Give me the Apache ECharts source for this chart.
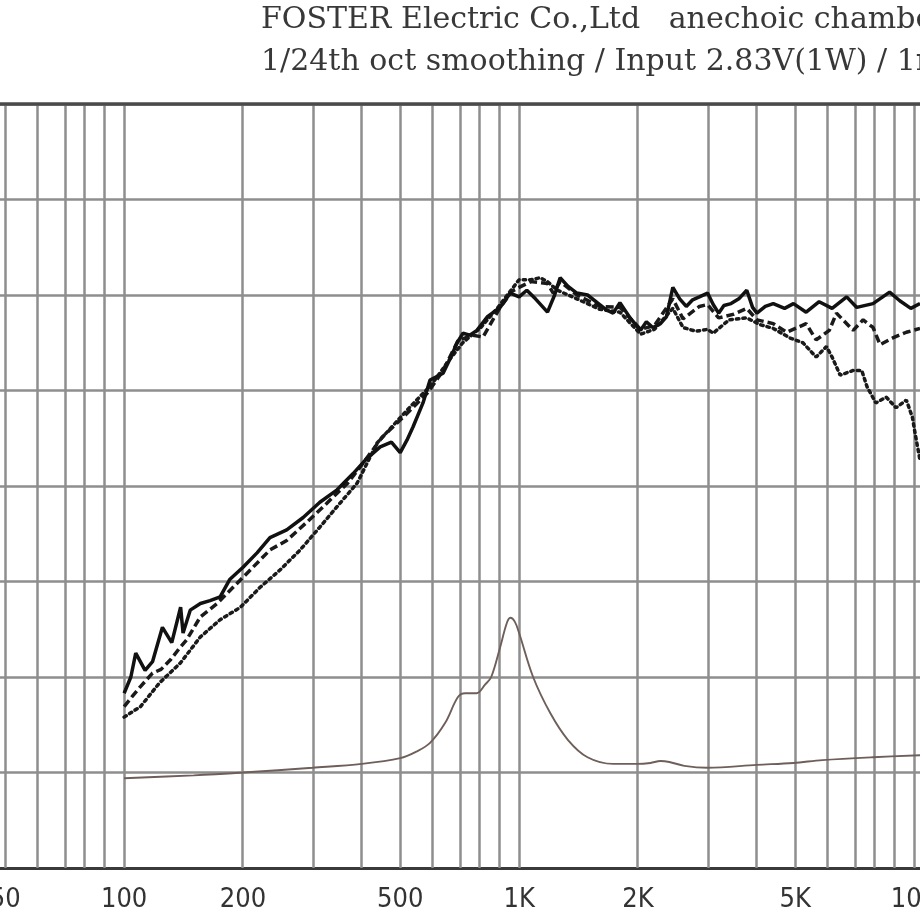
<!DOCTYPE html>
<html><head><meta charset="utf-8">
<script src="https://cdn.jsdelivr.net/npm/echarts@6/dist/echarts.min.js"></script>
<style>html,body{margin:0;padding:0;background:#fff}#c{width:920px;height:920px}</style>
</head><body><div id="c"></div>
<script>
const titleLine1 = 'FOSTER Electric Co.,Ltd   anechoic chamber';
const titleLine2 = '1/24th oct smoothing / Input 2.83V(1W) / 1m';

const gridFreqs = [50,60,70,80,90,100,200,300,400,500,600,700,800,900,1000,2000,3000,4000,5000,6000,7000,8000,9000,10000];
const tickFreqs = [50,100,200,500,1000,2000,5000,10000];
const tickLabels = ['50','100','200','500','1K','2K','5K','10K'];
const dbMin = 30, dbMax = 110, dbStep = 10;
const freqMin = 48.5, freqMax = 10350;

const solidFreq = [100,104,107,113,118,125,132,139,141,147,156,165,175,185,200,217,234,258,284,313,346,380,410,445,475,500,520,539,571,595,642,670,697,721,750,782,830,895,950,1000,1046,1100,1180,1230,1270,1330,1400,1490,1600,1670,1730,1800,1910,2030,2100,2180,2280,2360,2450,2550,2650,2750,2860,3000,3100,3200,3300,3440,3600,3770,3900,4000,4200,4400,4700,4950,5330,5750,6200,6750,7160,7870,8670,9200,9810,10350];
const solidDb = [48.3,50.0,52.5,50.7,51.6,55.2,53.6,57.3,54.6,57.0,57.7,58.0,58.4,60.2,61.5,63.0,64.6,65.4,66.7,68.3,69.6,71.3,72.8,74.1,74.6,73.5,74.8,76.2,78.7,81.1,81.8,83.4,85.0,86.0,85.8,86.3,87.7,88.7,90.2,89.8,90.5,89.6,88.2,90.0,91.8,90.9,90.2,90.0,89.0,88.4,88.1,89.2,87.6,86.3,87.2,86.6,87.0,87.7,90.8,89.6,88.8,89.5,89.8,90.2,89.0,88.1,88.9,89.1,89.6,90.5,88.7,88.1,88.8,89.1,88.6,89.1,88.2,89.3,88.6,89.8,88.7,89.1,90.3,89.4,88.6,89.1];

const dashFreq = [100,105,110,118,124,131,138,144,156,172,193,212,234,258,290,326,368,396,450,520,585,640,700,760,810,895,960,1000,1070,1180,1220,1270,1400,1600,1800,2030,2200,2450,2600,2860,3000,3200,3500,3770,4000,4400,4760,5330,5650,6100,6360,7010,7430,7870,8200,8830,9560,10350];
const dashDb = [46.9,48.0,49.0,50.4,50.8,51.8,53.0,53.9,56.3,57.7,59.8,61.5,63.3,64.3,66.2,68.2,70.3,72.0,75.1,77.6,79.7,82.0,85.2,85.8,85.6,88.7,90.4,90.8,91.4,91.2,90.2,91.4,90.0,88.8,88.7,86.4,86.8,89.6,87.5,88.8,89.0,87.6,88.0,88.6,87.4,87.0,86.1,87.0,85.3,86.3,88.1,86.3,87.4,86.6,84.8,85.5,86.1,86.5];

const dotFreq = [100,110,123,139,156,175,197,221,248,279,313,352,389,437,530,600,660,720,800,880,950,1000,1070,1130,1180,1250,1400,1600,1800,2030,2200,2450,2600,2800,3000,3100,3400,3770,4070,4400,4850,5230,5650,6000,6200,6500,7010,7370,7600,8000,8500,9000,9560,9900,10060,10350];
const dotDb = [45.8,46.9,49.4,51.5,54.2,56.0,57.3,59.4,61.2,63.3,65.7,68.2,70.3,74.5,78.3,80.6,83.0,85.0,86.6,88.6,90.4,91.6,91.6,91.8,91.4,90.5,89.6,88.5,88.2,85.9,86.4,88.6,86.6,86.2,86.4,86.0,87.4,87.6,86.9,86.5,85.5,85.0,83.5,84.6,83.5,81.6,82.1,82.1,80.4,78.7,79.3,78.2,79.0,77.2,75.5,72.7];

const impFreq = [100,150,200,300,400,500,550,595,650,700,730,780,820,850,895,930,950,975,1000,1085,1200,1330,1490,1730,1990,2150,2280,2400,2620,3000,4000,4950,5860,7870,10350];
const impDb = [39.4,39.7,40.0,40.5,40.9,41.5,42.2,43.1,45.2,47.9,48.3,48.3,49.2,50.0,53.1,55.6,56.2,55.8,54.6,50.0,46.2,43.4,41.6,40.9,40.9,41.0,41.2,41.1,40.7,40.5,40.8,41.0,41.3,41.6,41.8];

const lg = Math.log10;
const pairs = (fs, ds) => fs.map((f, i) => [lg(f), ds[i]]);
const tickVals = tickFreqs.map(lg);

const chart = echarts.init(document.getElementById('c'), null, {renderer: 'canvas'});
chart.setOption({
  animation: false,
  backgroundColor: '#ffffff',
  graphic: [
    {type: 'text', left: 261, top: 5, style: {text: titleLine1, font: '30px "DejaVu Serif"', fill: '#383838'}},
    {type: 'text', left: 261, top: 47, style: {text: titleLine2, font: '30px "DejaVu Serif"', fill: '#383838'}}
  ],
  grid: {left: 0, right: 0, top: 104, bottom: 52, containLabel: false, outerBoundsMode: 'none'},
  xAxis: {
    type: 'value', min: lg(freqMin), max: lg(freqMax),
    axisLine: {show: true, onZero: false, lineStyle: {color: '#3a3a3a', width: 3}},
    axisTick: {show: false},
    splitLine: {show: false},
    axisLabel: {
      customValues: tickVals, margin: 18, hideOverlap: false,
      color: '#333', fontSize: 27, fontFamily: 'DejaVu Sans Condensed',
      formatter: function (v) {
        let best = 0;
        for (let i = 0; i < tickVals.length; i++) if (Math.abs(tickVals[i] - v) < Math.abs(tickVals[best] - v)) best = i;
        return tickLabels[best];
      }
    }
  },
  yAxis: {
    type: 'value', min: dbMin, max: dbMax, interval: dbStep,
    axisLine: {show: false}, axisTick: {show: false}, axisLabel: {show: false},
    splitLine: {show: true, lineStyle: {color: '#8e8e8e', width: 2.5}}
  },
  series: [
    {
      type: 'line', data: [], silent: true,
      markLine: {
        z: 1, silent: true, symbol: 'none', animation: false,
        label: {show: false},
        lineStyle: {color: '#8e8e8e', width: 2.5, type: 'solid'},
        data: gridFreqs.map(f => ({xAxis: lg(f)})).concat([{yAxis: dbMax, lineStyle: {color: '#4a4a4a', width: 3.5}}])
      }
    },
    {type: 'line', data: pairs(impFreq, impDb), symbol: 'none', smooth: 0.35, z: 3,
     lineStyle: {color: '#6e5f5a', width: 1.9}},
    {type: 'line', data: pairs(dotFreq, dotDb), symbol: 'none', z: 4,
     lineStyle: {color: '#1a1a1a', width: 3.5, type: [2.5, 4], cap: 'round'}},
    {type: 'line', data: pairs(dashFreq, dashDb), symbol: 'none', z: 5,
     lineStyle: {color: '#1a1a1a', width: 3.5, type: [8, 4]}},
    {type: 'line', data: pairs(solidFreq, solidDb), symbol: 'none', z: 6,
     lineStyle: {color: '#111', width: 3.5}}
  ]
});
</script></body></html>
